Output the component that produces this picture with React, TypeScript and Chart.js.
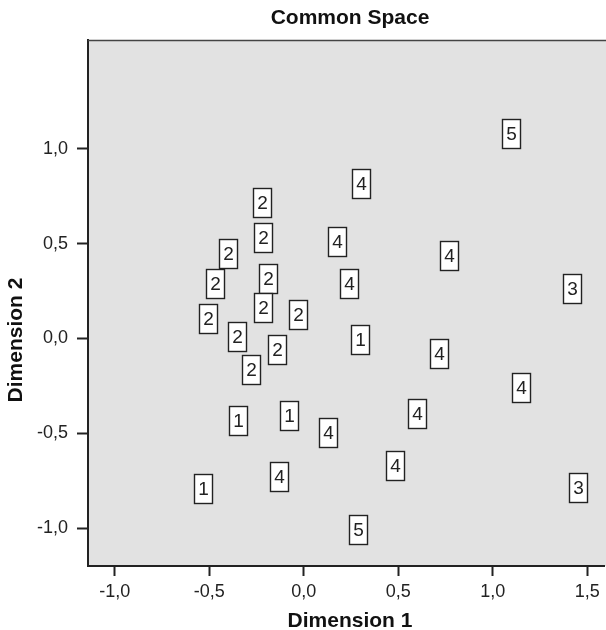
import React, { useEffect, useRef } from "react";
import { Chart, registerables } from "chart.js";

Chart.register(...registerables);

// Object group label shown in each box
const groupLabels = [
  "5", "4", "4", "4", "4", "3", "4", "4", "4", "4", "4", "3",
  "2", "2", "2", "2", "2", "2", "2", "2", "2", "2", "2",
  "1", "1", "1", "1", "4", "5",
];
// Dimension 1 coordinates
const dim1 = [
  1.096, 0.306, 0.175, 0.771, 0.241, 1.421, 0.715, 1.152, 0.602, 0.482, 0.129, 1.449,
  -0.223, -0.215, -0.402, -0.467, -0.188, -0.215, -0.029, -0.504, -0.354, -0.140, -0.280,
  0.296, -0.345, -0.075, -0.532, -0.132, 0.286,
];
// Dimension 2 coordinates
const dim2 = [
  1.079, 0.820, 0.513, 0.440, 0.290, 0.265, -0.080, -0.257, -0.394, -0.672, -0.497, -0.784,
  0.719, 0.534, 0.450, 0.291, 0.319, 0.163, 0.125, 0.106, 0.012, -0.060, -0.162,
  -0.004, -0.431, -0.405, -0.793, -0.727, -1.007,
];
const xTicks = [-1.0, -0.5, 0.0, 0.5, 1.0, 1.5];
const yTicks = [-1.0, -0.5, 0.0, 0.5, 1.0];
const xRange = [-1.141, 1.589];
const yRange = [-1.2005, 1.575];

const FONT = '"Liberation Sans", Arial, Helvetica, sans-serif';

const fmt = (v: number) => v.toFixed(1).replace(".", ",");

export default function App() {
  const ref = useRef<HTMLCanvasElement | null>(null);

  useEffect(() => {
    if (!ref.current) return;
    const pts = dim1.map((x, i) => ({ x, y: dim2[i], label: groupLabels[i] }));

    const bgPlugin = {
      id: "bg",
      beforeDraw(chart: any) {
        const { ctx, chartArea: a } = chart;
        ctx.save();
        ctx.fillStyle = "#e2e2e2";
        ctx.fillRect(a.left, a.top, a.right - a.left + 4, a.bottom - a.top);
        ctx.restore();
      },
      afterDraw(chart: any) {
        const { ctx, chartArea: a } = chart;
        ctx.save();
        ctx.strokeStyle = "#444";
        ctx.lineWidth = 1.5;
        ctx.beginPath();
        ctx.moveTo(a.left, a.top + 0.5);
        ctx.lineTo(chart.width, a.top + 0.5);
        ctx.stroke();
        ctx.fillStyle = "#111";
        ctx.font = `bold 21px ${FONT}`;
        ctx.textAlign = "center";
        ctx.textBaseline = "middle";
        ctx.fillText("Common Space", 350, 18);
        ctx.fillText("Dimension 1", 350, 621);
        ctx.translate(16, 340);
        ctx.rotate(-Math.PI / 2);
        ctx.fillText("Dimension 2", 0, 0);
        ctx.restore();
      },
    };

    const boxPlugin = {
      id: "boxes",
      afterDatasetsDraw(chart: any) {
        const { ctx } = chart;
        const meta = chart.getDatasetMeta(0);
        const data = chart.data.datasets[0].data as any[];
        ctx.save();
        ctx.font = `19px ${FONT}`;
        ctx.textAlign = "center";
        ctx.textBaseline = "middle";
        meta.data.forEach((el: any, i: number) => {
          const w = 18, h = 29;
          const x0 = Math.round(el.x - w / 2) + 0.5;
          const y0 = Math.round(el.y - h / 2) + 0.5;
          ctx.fillStyle = "#ffffff";
          ctx.fillRect(x0, y0, w, h);
          ctx.strokeStyle = "#222";
          ctx.lineWidth = 1.4;
          ctx.strokeRect(x0, y0, w, h);
          ctx.fillStyle = "#222";
          ctx.fillText(data[i].label, x0 + w / 2, y0 + h / 2 + 1);
        });
        ctx.restore();
      },
    };

    const chart = new Chart(ref.current, {
      type: "scatter",
      data: {
        datasets: [
          {
            data: pts as any,
            pointRadius: 0,
            pointHoverRadius: 0,
          },
        ],
      },
      options: {
        animation: false,
        responsive: false,
        layout: { padding: { top: 40, right: 2, left: 0, bottom: 0 } },
        plugins: {
          legend: { display: false },
          title: { display: false },
          tooltip: { enabled: false },
        },
        scales: {
          x: {
            type: "linear",
            min: xRange[0],
            max: xRange[1],
            afterBuildTicks: (s: any) => {
              s.ticks = xTicks.map((v) => ({ value: v }));
            },
            afterFit: (s: any) => {
              s.height = 64;
            },
            ticks: {
              callback: (v: any) => fmt(Number(v)),
              color: "#222",
              font: { family: FONT, size: 18 },
              padding: 5,
              maxRotation: 0,
            },
            grid: {
              display: true,
              drawOnChartArea: false,
              drawTicks: true,
              tickLength: 10,
              tickWidth: 2,
              tickColor: "#222",
            },
            border: { display: true, color: "#222", width: 2 },
          },
          y: {
            type: "linear",
            min: yRange[0],
            max: yRange[1],
            afterBuildTicks: (s: any) => {
              s.ticks = yTicks.map((v) => ({ value: v }));
            },
            afterFit: (s: any) => {
              s.width = 88;
            },
            ticks: {
              callback: (v: any) => fmt(Number(v)),
              color: "#222",
              font: { family: FONT, size: 18 },
              padding: 9,
            },
            grid: {
              display: true,
              drawOnChartArea: false,
              drawTicks: true,
              tickLength: 11,
              tickWidth: 2,
              tickColor: "#222",
            },
            border: { display: true, color: "#222", width: 2 },
          },
        },
      },
      plugins: [bgPlugin, boxPlugin],
    });
    return () => chart.destroy();
  }, []);

  return (
    <div style={{ position: "absolute", left: 0, top: 0, width: 606, height: 630, background: "#fff" }}>
      <canvas ref={ref} width={606} height={630} />
    </div>
  );
}
